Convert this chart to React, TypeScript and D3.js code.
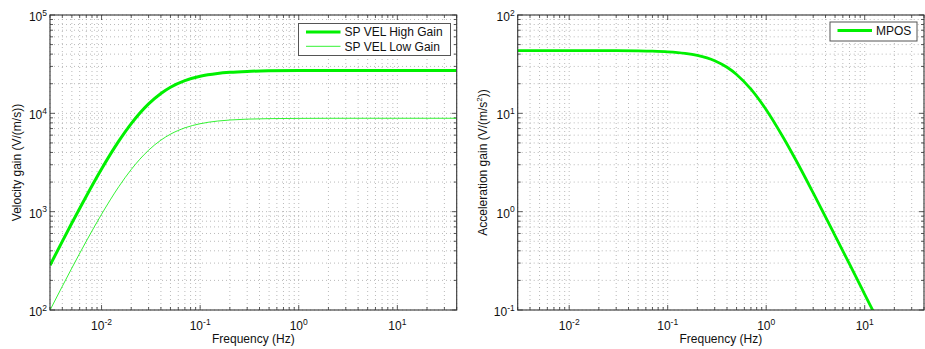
import React from 'react';
import * as d3 from 'd3';

// Left panel: velocity gain vs frequency
const velFreqs = [0.003, 0.004, 0.005, 0.007, 0.01, 0.015, 0.02, 0.03, 0.04, 0.05, 0.07, 0.1, 0.15, 0.2, 0.3, 0.5, 1, 2, 5, 10, 20, 40];
const highGain = [285, 499, 766, 1438, 2715, 5239, 7859, 12480, 15940, 18430, 21520, 23840, 25450, 26130, 26700, 27050, 27220, 27270, 27300, 27300, 27300, 27300];
const lowGain = [99.6, 174.3, 267, 500.6, 941, 1803, 2685, 4217, 5341, 6137, 7118, 7841, 8344, 8554, 8730, 8833, 8886, 8903, 8910, 8910, 8910, 8910];

// Right panel: acceleration gain vs frequency
const accFreqs = [0.003, 0.01, 0.03, 0.05, 0.07, 0.1, 0.15, 0.2, 0.3, 0.4, 0.5, 0.7, 1, 1.5, 2, 3, 5, 7, 10, 12.5];
const mposGain = [43.5, 43.49, 43.38, 43.18, 42.87, 42.23, 40.75, 38.84, 34.25, 29.39, 24.86, 17.61, 10.88, 5.61, 3.35, 1.553, 0.572, 0.294, 0.1445, 0.0926];

const xDomain: [number, number] = [0.003, 40];
const xTickExps = [-2, -1, 0, 1];
const leftYDomain: [number, number] = [100, 100000];
const leftYTickExps = [2, 3, 4, 5];
const rightYDomain: [number, number] = [0.1, 100];
const rightYTickExps = [-1, 0, 1, 2];

const legendLeft = ['SP VEL High Gain', 'SP VEL Low Gain'];
const legendRight = ['MPOS'];

const FONT = '"Liberation Sans", Arial, Helvetica, sans-serif';
const GREEN = '#00f000';

type Series = { x: number[]; y: number[]; width: number; color: string };

function minorVals(domain: [number, number]): number[] {
  const out: number[] = [];
  const lo = Math.floor(Math.log10(domain[0]));
  const hi = Math.ceil(Math.log10(domain[1]));
  for (let e = lo; e <= hi; e++) {
    for (let m = 1; m <= 9; m++) {
      const v = m * Math.pow(10, e);
      if (v >= domain[0] * 0.9999 && v <= domain[1] * 1.0001) out.push(v);
    }
  }
  return out;
}

function Panel(props: {
  id: string;
  left: number; right: number; top: number; bottom: number;
  yDomain: [number, number]; yExps: number[];
  series: Series[];
  yLabel: React.ReactNode;
  yLabelX: number;
  legend: { labels: string[]; widths: number[]; x: number; y: number; w: number; h: number };
}) {
  const { id, left, right, top, bottom, yDomain, yExps, series, yLabel, yLabelX, legend } = props;
  const xs = d3.scaleLog().domain(xDomain).range([left, right]);
  const ys = d3.scaleLog().domain(yDomain).range([bottom, top]);
  const xMinor = minorVals(xDomain);
  const yMinor = minorVals(yDomain);
  const line = d3.line<[number, number]>()
    .x(d => xs(d[0]))
    .y(d => ys(d[1]))
    .curve(d3.curveMonotoneX);
  const isMajor = (v: number) => Math.abs(Math.log10(v) - Math.round(Math.log10(v))) < 1e-6;
  const gridColor = '#a8a8a8';
  const axisColor = '#333';
  return (
    <g>
      <defs>
        <clipPath id={id}>
          <rect x={left} y={top} width={right - left} height={bottom - top} />
        </clipPath>
      </defs>
      <rect x={left} y={top} width={right - left} height={bottom - top} fill="#fff" />
      {xMinor.map((v, i) => (
        <line key={'gx' + i} x1={xs(v)} x2={xs(v)} y1={top} y2={bottom} stroke={gridColor} strokeWidth={0.8} strokeDasharray="1,3" />
      ))}
      {yMinor.map((v, i) => (
        <line key={'gy' + i} y1={ys(v)} y2={ys(v)} x1={left} x2={right} stroke={gridColor} strokeWidth={0.8} strokeDasharray="1,3" />
      ))}
      {xMinor.map((v, i) => {
        const L = isMajor(v) ? 5 : 3;
        return (
          <g key={'tx' + i}>
            <line x1={xs(v)} x2={xs(v)} y1={bottom} y2={bottom - L} stroke={axisColor} strokeWidth={0.8} />
            <line x1={xs(v)} x2={xs(v)} y1={top} y2={top + L} stroke={axisColor} strokeWidth={0.8} />
          </g>
        );
      })}
      {yMinor.map((v, i) => {
        const L = isMajor(v) ? 5 : 3;
        return (
          <g key={'ty' + i}>
            <line y1={ys(v)} y2={ys(v)} x1={left} x2={left + L} stroke={axisColor} strokeWidth={0.8} />
            <line y1={ys(v)} y2={ys(v)} x1={right} x2={right - L} stroke={axisColor} strokeWidth={0.8} />
          </g>
        );
      })}
      <g clipPath={`url(#${id})`}>
        {series.map((s, i) => (
          <path key={'s' + i} d={line(s.x.map((xv, j) => [xv, s.y[j]] as [number, number])) || ''}
            fill="none" stroke={s.color} strokeWidth={s.width} strokeLinejoin="round" />
        ))}
      </g>
      <rect x={left} y={top} width={right - left} height={bottom - top} fill="none" stroke={axisColor} strokeWidth={1.1} />
      {xTickExps.map(e => (
        <text key={'lx' + e} x={xs(Math.pow(10, e))} y={330} textAnchor="middle" fontFamily={FONT} fontSize={12} fill="#111">
          10<tspan fontSize={8.5} dy={-5.5}>{e}</tspan>
        </text>
      ))}
      {yExps.map(e => (
        <text key={'ly' + e} x={left - 3} y={ys(Math.pow(10, e)) + 6} textAnchor="end" fontFamily={FONT} fontSize={12} fill="#111">
          10<tspan fontSize={8.5} dy={-5.5}>{e}</tspan>
        </text>
      ))}
      <text x={(left + right) / 2} y={343} textAnchor="middle" fontFamily={FONT} fontSize={12} fill="#111">Frequency (Hz)</text>
      <text transform={`translate(${yLabelX},${(top + bottom) / 2}) rotate(-90)`} textAnchor="middle" fontFamily={FONT} fontSize={12} fill="#111">{yLabel}</text>
      <rect x={legend.x} y={legend.y} width={legend.w} height={legend.h} fill="#fff" stroke="#555" strokeWidth={1} />
      {legend.labels.map((lab, i) => {
        const cy = legend.y + 8.5 + i * 14.3;
        return (
          <g key={'lg' + i}>
            <line x1={legend.x + 7.5} x2={legend.x + 42} y1={cy} y2={cy} stroke={GREEN} strokeWidth={legend.widths[i]} />
            <text x={legend.x + 46} y={cy + 4.3} fontFamily={FONT} fontSize={12} fill="#111">{lab}</text>
          </g>
        );
      })}
    </g>
  );
}

export default function App() {
  return (
    <svg width={925} height={349} style={{ position: 'absolute', left: 0, top: 0, background: '#fff' }}>
      <rect x={0} y={0} width={925} height={349} fill="#fff" />
      <Panel
        id="clipL"
        left={50} right={456.7} top={15} bottom={310}
        yDomain={leftYDomain} yExps={leftYTickExps}
        series={[
          { x: velFreqs, y: highGain, width: 3, color: GREEN },
          { x: velFreqs, y: lowGain, width: 0.8, color: GREEN },
        ]}
        yLabel="Velocity gain (V/(m/s))"
        yLabelX={21}
        legend={{ labels: legendLeft, widths: [3, 0.8], x: 298.5, y: 23.5, w: 152, h: 32 }}
      />
      <Panel
        id="clipR"
        left={517.7} right={924} top={15} bottom={310}
        yDomain={rightYDomain} yExps={rightYTickExps}
        series={[{ x: accFreqs, y: mposGain, width: 2.8, color: GREEN }]}
        yLabel={<>Acceleration gain (V/(m/s<tspan fontSize={8} dy={-5}>2</tspan><tspan dy={5}>))</tspan></>}
        yLabelX={487}
        legend={{ labels: legendRight, widths: [2.8], x: 830, y: 22, w: 87, h: 19 }}
      />
    </svg>
  );
}
